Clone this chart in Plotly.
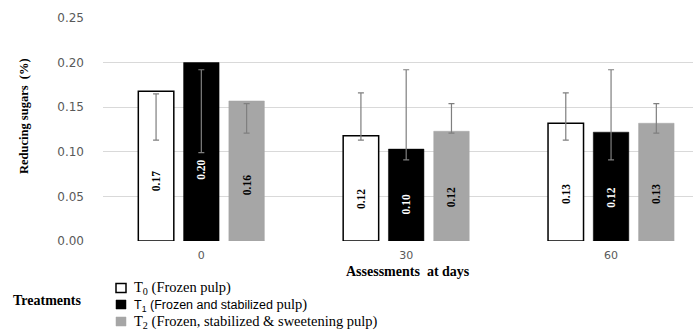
import plotly.graph_objects as go

# Assessment days and treatment series
days = ["0", "30", "60"]
treatment_labels = [
    "T<sub>0</sub> (Frozen pulp)",
    '<span style="font-family:Liberation Sans;font-size:12.5px">T<sub>1</sub> (Frozen and stabilized </span>pulp)',
    "T<sub>2</sub> (Frozen, stabilized &amp; sweetening pulp)",
]
t0_values = [0.168, 0.118, 0.132]
t1_values = [0.200, 0.103, 0.122]
t2_values = [0.157, 0.123, 0.132]

# Upper / lower ends of the error bars
t0_err_high = [0.165, 0.166, 0.166]
t0_err_low = [0.113, 0.113, 0.113]
t1_err_high = [0.192, 0.192, 0.192]
t1_err_low = [0.099, 0.091, 0.091]
t2_err_high = [0.154, 0.154, 0.154]
t2_err_low = [0.121, 0.121, 0.121]

fills = ["#ffffff", "#000000", "#a6a6a6"]
outlines = ["#000000", "#000000", "#a6a6a6"]
outline_widths = [1.5, 0.5, 0.5]
text_colors = ["#000000", "#ffffff", "#000000"]

series = [
    (t0_values, t0_err_high, t0_err_low),
    (t1_values, t1_err_high, t1_err_low),
    (t2_values, t2_err_high, t2_err_low),
]

# plot area in pixels (used to place the hand-made legend)
L, R, T, B = 103, 0, 18, 90
W, H = 693, 331
PW, PH = W - L - R, H - T - B


def px_x(x):
    return (x - L) / PW


def px_y(y):
    return (H - B - y) / PH


fig = go.Figure()
for i, (vals, hi, lo) in enumerate(series):
    plus = [h - v for h, v in zip(hi, vals)]
    minus = [v - l for v, l in zip(vals, lo)]
    fig.add_trace(go.Bar(
        x=days,
        y=vals,
        offsetgroup=str(i),
        showlegend=False,
        marker=dict(color=fills[i], line=dict(color=outlines[i], width=outline_widths[i])),
        error_y=dict(type="data", symmetric=False, array=plus, arrayminus=minus,
                     color="#7f7f7f", thickness=1.2, width=3),
    ))

# value labels: a transparent bar in the same slot, so the rotated label sits low in the bar
for i, (vals, _, _) in enumerate(series):
    fig.add_trace(go.Bar(
        x=days,
        y=[0.8 * v for v in vals],
        customdata=vals,
        offsetgroup=str(i),
        showlegend=False,
        hoverinfo="skip",
        marker=dict(color="rgba(0,0,0,0)", line=dict(width=0)),
        texttemplate="%{customdata:.2f}",
        textposition="inside",
        insidetextanchor="middle",
        textangle=-90,
        constraintext="none",
        textfont=dict(family="Liberation Serif", size=11.5, color=text_colors[i], weight="bold"),
    ))

# legend swatches and labels
row_centers = [288, 304.5, 321.5]
shapes = []
annotations = []
for i, yc in enumerate(row_centers):
    shapes.append(dict(
        type="rect", xref="paper", yref="paper",
        x0=px_x(116), x1=px_x(126), y0=px_y(yc + 4.5), y1=px_y(yc - 4.5),
        fillcolor=fills[i], line=dict(color=outlines[i], width=1.5 if i == 0 else 0.5),
    ))
    annotations.append(dict(
        text=treatment_labels[i], xref="paper", yref="paper",
        x=px_x(132), y=px_y(yc), xanchor="left", yanchor="middle", showarrow=False,
        font=dict(family="Liberation Serif", size=14.5, color="#000000"),
    ))

annotations += [
    dict(text="<b>Reducing sugars\u00a0 (%)</b>", xref="paper", yref="paper",
         x=px_x(24), y=px_y(116), xanchor="center", yanchor="middle", textangle=-90,
         showarrow=False, font=dict(family="Liberation Serif", size=12.5, color="#000000")),
    dict(text="<b>Assessments\u00a0 at days</b>", xref="paper", yref="paper",
         x=px_x(408), y=px_y(271), xanchor="center", yanchor="middle",
         showarrow=False, font=dict(family="Liberation Serif", size=14, color="#000000")),
    dict(text="<b>Treatments</b>", xref="paper", yref="paper",
         x=px_x(11), y=px_y(300), xanchor="left", yanchor="middle",
         showarrow=False, font=dict(family="Liberation Serif", size=14, color="#000000")),
]

fig.update_layout(
    width=W,
    height=H,
    margin=dict(l=L, r=R, t=T, b=B),
    paper_bgcolor="white",
    plot_bgcolor="white",
    barmode="group",
    bargap=0.337,
    bargroupgap=0.216,
    showlegend=False,
    xaxis=dict(
        type="category",
        range=[-0.48, 2.4],
        showgrid=False,
        showline=False,
        ticks="",
        ticklabelstandoff=6,
        tickfont=dict(family="DejaVu Sans", size=11, color="#595959"),
    ),
    yaxis=dict(
        range=[0, 0.25],
        dtick=0.05,
        tickformat=".2f",
        showgrid=True,
        gridcolor="#d9d9d9",
        gridwidth=1,
        zeroline=False,
        showline=False,
        ticks="",
        ticklabelstandoff=18,
        tickfont=dict(family="DejaVu Sans", size=12, color="#595959"),
    ),
    shapes=shapes,
    annotations=annotations,
)

fig.write_html("out.html")
